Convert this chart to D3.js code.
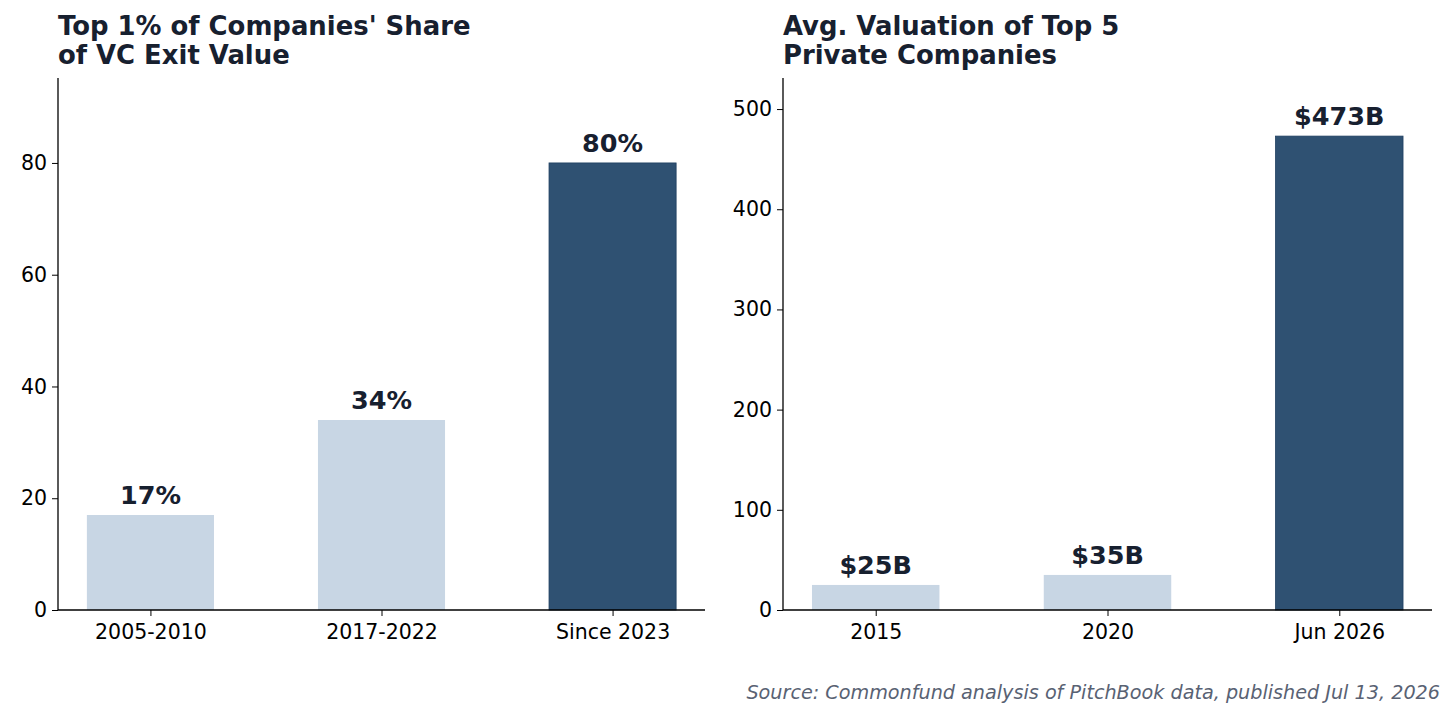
<!DOCTYPE html>
<html><head><meta charset="utf-8">
<script src="https://cdn.jsdelivr.net/npm/d3@7"></script>
<style>body{margin:0;background:#fff}text{font-family:"DejaVu Sans",sans-serif}</style>
</head><body><svg id="c" width="1456" height="721"></svg>
<script>
const leftCats=["2005-2010","2017-2022","Since 2023"];
const leftVals=[17,34,80];
const leftLabels=["17%","34%","80%"];
const leftTicks=[0,20,40,60,80];
const rightCats=["2015","2020","Jun 2026"];
const rightVals=[25,35,473];
const rightLabels=["$25B","$35B","$473B"];
const rightTicks=[0,100,200,300,400,500];
const colors=["#c8d6e4","#c8d6e4","#2f5172"];
const svg=d3.select("#c");
function panel(x0,x1,yTop,yBot,ymax,cats,vals,labels,ticks,title){
  const g=svg.append("g");
  const x=d3.scaleLinear().domain([-0.4,2.4]).range([x0,x1]);
  const y=d3.scaleLinear().domain([0,ymax]).range([yBot,yTop]);
  const w=0.55;
  g.selectAll("rect").data(vals).join("rect")
    .attr("x",(d,i)=>x(i-w/2)).attr("width",x(w)-x(0))
    .attr("y",d=>y(d)).attr("height",d=>y(0)-y(d))
    .attr("fill",(d,i)=>colors[i]).attr("stroke",(d,i)=>i==2?"#1f3f60":"none").attr("stroke-width",0.8);
  g.selectAll("text.v").data(vals).join("text").attr("class","v")
    .attr("x",(d,i)=>x(i)).attr("y",d=>y(d)-11).attr("text-anchor","middle")
    .attr("font-size",25.5).attr("font-weight","bold").attr("fill","#17202f")
    .text((d,i)=>labels[i]);
  const ya=d3.axisLeft(y).tickValues(ticks).tickSize(6).tickPadding(5);
  const yg=g.append("g").attr("transform",`translate(${x0},0)`).call(ya);
  const xa=d3.axisBottom(x).tickValues([0,1,2]).tickFormat(i=>cats[i]).tickSize(6).tickPadding(8);
  const xg=g.append("g").attr("transform",`translate(0,${yBot})`).call(xa);
  [yg,xg].forEach(a=>{a.selectAll("text").attr("font-size",20.5).attr("fill","#000").style("font-family","DejaVu Sans");
    a.select(".domain").attr("stroke","#000").attr("stroke-width",1.3);a.selectAll("line").attr("stroke","#000");});
  xg.select(".domain").attr("d",`M${x0},0H${x1}`);
  yg.select(".domain").attr("d",`M0,${yTop}V${yBot}`);
  const t=g.append("text").attr("x",x0).attr("y",35).attr("font-size",25.9).attr("font-weight","bold").attr("fill","#17202f");
  title.forEach((s,i)=>t.append("tspan").attr("x",x0).attr("dy",i?29:0).text(s));
}
panel(58,705,78,610,95.2,leftCats,leftVals,leftLabels,leftTicks,["Top 1% of Companies' Share","of VC Exit Value"]);
panel(783,1432,78,610,531,rightCats,rightVals,rightLabels,rightTicks,["Avg. Valuation of Top 5","Private Companies"]);
svg.append("text").attr("x",1440).attr("y",699).attr("text-anchor","end").attr("font-size",19.2)
  .attr("font-style","italic").attr("fill","#596273").text("Source: Commonfund analysis of PitchBook data, published Jul 13, 2026");
</script></body></html>
